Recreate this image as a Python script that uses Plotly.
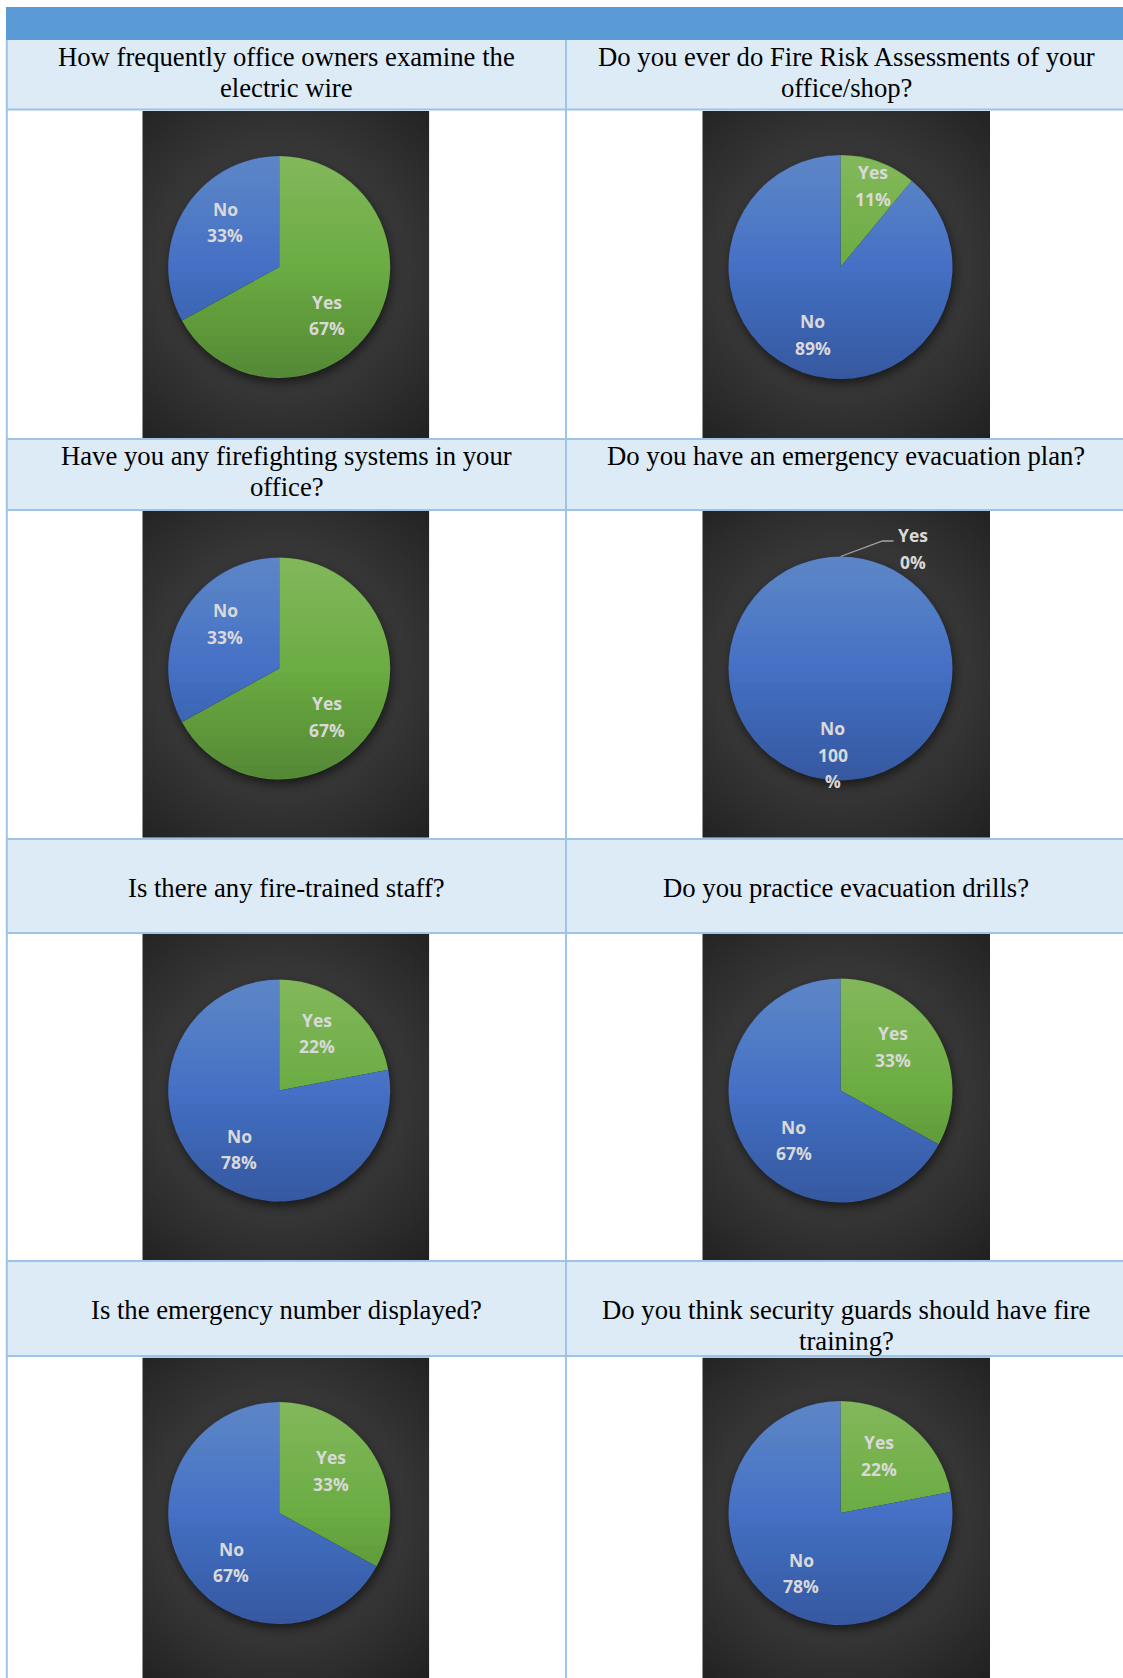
import numpy as np
import plotly.graph_objects as go

W, H = 1123, 1678

# ---------------- data ----------------
questions = [
    "How frequently office owners examine the<br>electric wire",
    "Do you ever do Fire Risk Assessments of your<br>office/shop?",
    "Have you any firefighting systems in your<br>office?",
    "Do you have an emergency evacuation plan?",
    "Is there any fire-trained staff?",
    "Do you practice evacuation drills?",
    "Is the emergency number displayed?",
    "Do you think security guards should have fire<br>training?",
]
categories = ["Yes", "No"]
yes_pct = [67, 11, 67, 0, 22, 33, 33, 22]
no_pct = [33, 89, 33, 100, 78, 67, 67, 78]

# ---------------- styling / layout (pixels) ----------------
BAR_BLUE = "#5B9BD5"
CELL_BLUE = "#DDEBF7"
BORDER = "#9DC3E6"
GREEN = "#6BAC43"
BLUE = "#4570C6"
LABEL_COLOR = "#D9D9D9"

HEADER_Y = [(40, 109.5), (439, 510), (839, 933), (1261, 1356)]
FIRST_LINE_Y = [56.7, 456, 887.5, 1310]
HEAD_LINE_H = 31
PANEL_Y = [(111, 438), (510.6, 838), (933.5, 1260), (1357.5, 1678)]
PANEL_X = [(142.3, 429.3), (702.3, 990)]
COL_CENTER = [286.5, 846]
PIE_CX = [279.2, 840.5]
PIE_CY = [267, 668.5, 1090.5, 1513]
PIE_R = [111, 112]
LBL_LINE_H = 26.5
STEP = 2.0
# "best fit" label placement tweaks (angle shift in degrees, radius fraction) per chart, per slice
LABEL_ADJ = [
    [(14.6, 0.61), (9.2, 0.633)],
    [(1.7, 0.78), (2.7, 0.65)],
    [(14.6, 0.61), (9.2, 0.633)],
    [(0, 0), (5.0, 0.775)],
    [(-6.1, 0.62), (-5.3, 0.64)],
    [(-9.6, 0.61), (-16.0, 0.61)],
    [(-8.9, 0.60), (-15.0, 0.62)],
    [(-5.7, 0.62), (-6.4, 0.64)],
]
N_GRAD = 12


def px(x):
    return x / W


def py(y):
    return 1 - y / H


fig = go.Figure()
shapes = []
annotations = []
layout_axes = {}

# table background pieces
shapes.append(dict(type="rect", xref="paper", yref="paper", layer="below",
                   x0=px(6), x1=px(W + 5), y0=py(40), y1=py(7),
                   fillcolor=BAR_BLUE, line=dict(width=0)))
for (y0, y1) in HEADER_Y:
    shapes.append(dict(type="rect", xref="paper", yref="paper", layer="below",
                       x0=px(7), x1=px(W + 5), y0=py(y1), y1=py(y0),
                       fillcolor=CELL_BLUE, line=dict(width=0)))
# borders
for yb in [109.5, 439, 510, 839, 933, 1261, 1356]:
    shapes.append(dict(type="line", xref="paper", yref="paper", layer="above",
                       x0=px(6), x1=px(W + 5), y0=py(yb), y1=py(yb),
                       line=dict(color=BORDER, width=2)))
for xb in [6.8, 566]:
    shapes.append(dict(type="line", xref="paper", yref="paper", layer="above",
                       x0=px(xb), x1=px(xb), y0=py(40), y1=py(H + 5),
                       line=dict(color=BORDER, width=2)))


def panel_gray(pw, ph, cx, cy, R):
    xs = np.arange(0, pw + STEP, STEP)
    ys = np.arange(0, ph + STEP, STEP)
    X, Y = np.meshgrid(xs, ys)
    dcorner = np.hypot(max(cx, pw - cx), max(cy, ph - cy))
    d = np.clip(np.hypot(X - cx, Y - cy) / dcorner, 0, 1)
    g = 72 - 40 * d ** 1.3
    ds = np.hypot(X - (cx + 1), Y - (cy + 4))
    s = 1 / (1 + np.exp((ds - R) / 3.0))
    g = g * (1 - 0.55 * s)
    return xs, ys, np.round(g, 1)


def cap_path(cx, cy, R, yk, below=True):
    """Region of the circle below (or above) the horizontal line y = yk (pixel coords)."""
    h = np.clip((yk - cy) / R, -1, 1)
    a = np.arcsin(h)
    if below:
        psi = np.linspace(a, np.pi - a, 48)
    else:
        psi = np.linspace(np.pi - a, 2 * np.pi + a, 48)
    pts = [(cx + R * np.cos(p), cy + R * np.sin(p)) for p in psi]
    return "M " + " L ".join(f"{px(x):.5f},{py(y):.5f}" for x, y in pts) + " Z"


def add_label(lines, cx, cy, color=LABEL_COLOR):
    n = len(lines)
    for k, t in enumerate(lines):
        ly = cy + (k - (n - 1) / 2) * LBL_LINE_H
        annotations.append(dict(x=px(cx), y=py(ly), xref="paper", yref="paper",
                                text=t, showarrow=False, xanchor="center",
                                yanchor="middle",
                                font=dict(family="Open Sans", size=17.5, color=color,
                                          weight=700)))


for i in range(8):
    r, c = divmod(i, 2)
    x0, x1 = PANEL_X[c]
    y0, y1 = PANEL_Y[r]
    pw, ph = x1 - x0, y1 - y0
    cx, cy, R = PIE_CX[c], PIE_CY[r], PIE_R[c]

    # background panel (radial dark gradient with pie shadow)
    xs, ys, g = panel_gray(pw, ph, cx - x0, cy - y0, R)
    ax = "" if i == 0 else str(i + 1)
    fig.add_trace(go.Heatmap(x=xs, y=ys, z=g.tolist(), xaxis="x" + ax, yaxis="y" + ax,
                             colorscale=[[0, "rgb(0,0,0)"], [1, "rgb(255,255,255)"]],
                             zmin=0, zmax=255, showscale=False, zsmooth="best",
                             hoverinfo="skip"))
    layout_axes["xaxis" + ax] = dict(domain=[px(x0), px(x1)], range=[0, pw], visible=False,
                                      fixedrange=True, anchor="y" + ax)
    layout_axes["yaxis" + ax] = dict(domain=[py(y1), py(y0)], range=[ph, 0], visible=False,
                                      fixedrange=True, anchor="x" + ax)

    vals = [yes_pct[i], no_pct[i]]
    fig.add_trace(go.Pie(values=vals, labels=categories,
                         domain=dict(x=[px(cx - R), px(cx + R)], y=[py(cy + R), py(cy - R)]),
                         marker=dict(colors=[GREEN, BLUE], line=dict(width=0)),
                         sort=False, direction="clockwise", rotation=0,
                         textinfo="none", hoverinfo="label+percent", showlegend=False))

    # vertical shading of the pie (lighter top, darker bottom)
    for k in range(1, N_GRAD + 1):
        yk = cy + R * (k - 0.5) / N_GRAD
        shapes.append(dict(type="path", xref="paper", yref="paper", layer="above",
                           path=cap_path(cx, cy, R - 0.3, yk, below=True),
                           fillcolor="black", opacity=0.014, line=dict(width=0)))
        yk = cy - R * (k - 0.5) / N_GRAD
        shapes.append(dict(type="path", xref="paper", yref="paper", layer="above",
                           path=cap_path(cx, cy, R - 0.3, yk, below=False),
                           fillcolor="white", opacity=0.017, line=dict(width=0)))

    # data labels
    total = float(sum(vals))
    start = 0.0
    for j, (cat, v) in enumerate(zip(categories, vals)):
        share = v / total
        mid = (start + share / 2) * 2 * np.pi
        start += share
        pct_lines = [f"{v}%"] if v < 100 else [str(v), "%"]
        if share == 0:
            ex, ey = cx + R * np.sin(mid), cy - R * np.cos(mid)
            path = (f"M {px(ex)},{py(ey)} L {px(ex + 42)},{py(ey - 15.5)} "
                    f"L {px(ex + 53)},{py(ey - 15.5)}")
            shapes.append(dict(type="path", xref="paper", yref="paper", layer="above",
                               path=path, line=dict(color="#A6A6A6", width=1.3)))
            add_label([cat] + pct_lines, ex + 72.5, ey - 8)
        else:
            dang, frac = LABEL_ADJ[i][j]
            ang = mid + np.deg2rad(dang)
            lx = cx + frac * R * np.sin(ang)
            ly = cy - frac * R * np.cos(ang)
            add_label([cat] + pct_lines, lx, ly)

    # question header
    hy0 = FIRST_LINE_Y[r]
    for k, line in enumerate(questions[i].split("<br>")):
        annotations.append(dict(x=px(COL_CENTER[c]), y=py(hy0 + k * HEAD_LINE_H),
                                xref="paper", yref="paper", text=line, showarrow=False,
                                xanchor="center", yanchor="middle",
                                font=dict(family="Liberation Serif, Times New Roman, serif",
                                          size=26.7, color="#000000")))

fig.update_layout(width=W, height=H, margin=dict(l=0, r=0, t=0, b=0),
                  paper_bgcolor="white", plot_bgcolor="rgba(0,0,0,0)",
                  shapes=shapes, annotations=annotations, showlegend=False,
                  **layout_axes)

fig.write_html("out.html", config=dict(displayModeBar=False))
